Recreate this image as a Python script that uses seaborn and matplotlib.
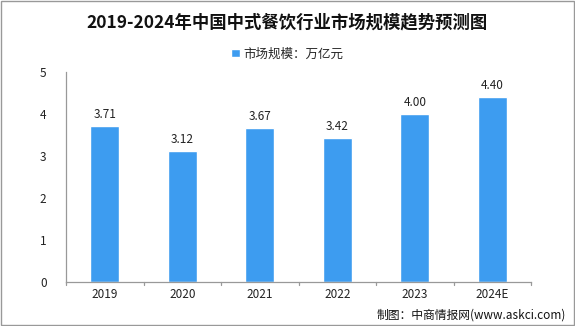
import matplotlib
matplotlib.use("Agg")
import matplotlib.pyplot as plt
import seaborn as sns
import pandas as pd
from matplotlib.patches import Patch, Rectangle

years = ["2019", "2020", "2021", "2022", "2023", "2024E"]
values = [3.71, 3.12, 3.67, 3.42, 4.00, 4.40]
labels = ["3.71", "3.12", "3.67", "3.42", "4.00", "4.40"]
title = "2019-2024年中国中式餐饮行业市场规模趋势预测图"
legend_label = "市场规模：万亿元"
source = "制图：中商情报网(www.askci.com)"

sns.set_theme(style="white")
plt.rcParams['font.family'] = ['Noto Sans CJK SC', 'DejaVu Sans']

df = pd.DataFrame({"year": years, "value": values})
color = "#3d9cf0"

fig = plt.figure(figsize=(5.75, 3.26), dpi=100)
ax = fig.add_axes([66/575, 44/326, 465/575, 210/326])
sns.barplot(data=df, x="year", y="value", color=color, width=0.38, ax=ax, saturation=1)

for i, (v, t) in enumerate(zip(values, labels)):
    ax.text(i, v + 0.12, t, ha="center", va="bottom", fontsize=8.5, color="#222222")

ax.set_ylim(0, 5)
ax.set_xlim(-0.5, 5.5)
ax.set_yticks([0, 1, 2, 3, 4, 5])
ax.set_xlabel("")
ax.set_ylabel("")
ax.tick_params(axis="both", labelsize=8.5, colors="#222222", length=0, pad=4)
ax.tick_params(axis="y", length=4, direction="out", color="#999999", pad=10)
for s in ["top", "right"]:
    ax.spines[s].set_visible(False)
for s in ["left", "bottom"]:
    ax.spines[s].set_color("#999999")
    ax.spines[s].set_linewidth(0.9)
# category boundary ticks
for b in [-0.5, 0.5, 1.5, 2.5, 3.5, 4.5, 5.5]:
    ax.plot([b, b], [0, -0.08], color="#999999", lw=0.9, clip_on=False)

fig.text(0.5, 0.93, title, ha="center", va="center", fontsize=12.5, fontweight="bold", color="#111111")
leg = fig.legend(handles=[Patch(facecolor=color, label=legend_label)], loc="center",
                 bbox_to_anchor=(0.5, 0.835), frameon=False, fontsize=9,
                 handlelength=0.7, handleheight=0.7, handletextpad=0.3)
fig.text(0.985, 0.035, source, ha="right", va="center", fontsize=8.5, color="#111111")

fig.patches.append(Rectangle((0.001, 0.002), 0.997, 0.995, transform=fig.transFigure,
                             fill=False, edgecolor="#999999", lw=1))

fig.savefig("out.png", dpi=100)
